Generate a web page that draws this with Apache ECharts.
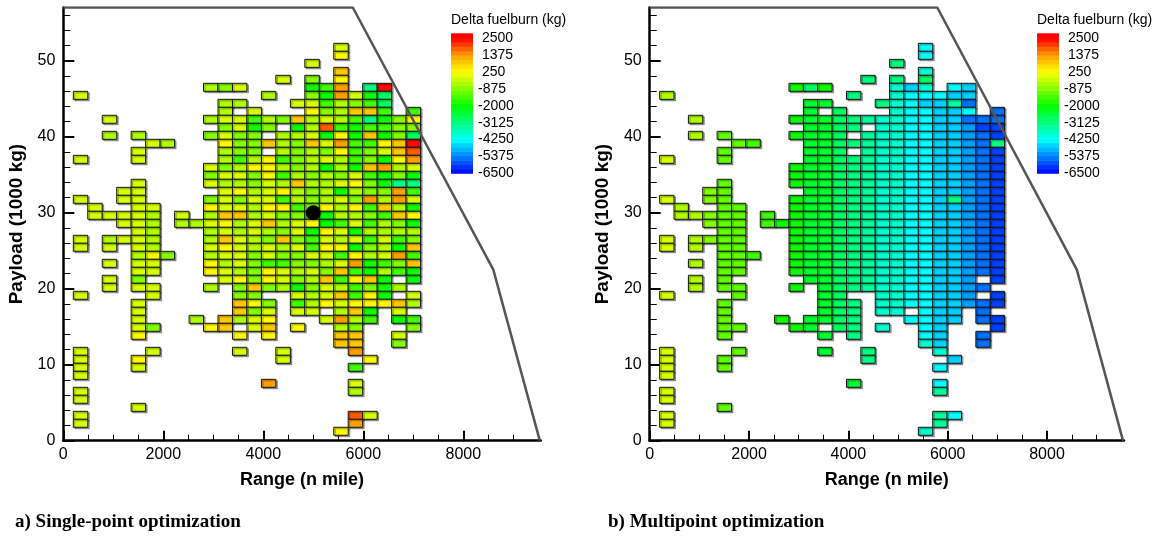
<!DOCTYPE html>
<html><head><meta charset="utf-8">
<script src="https://cdn.jsdelivr.net/npm/echarts@6/dist/echarts.min.js"></script>
<style>html,body{margin:0;padding:0;background:#fff}#c{width:1160px;height:538px}</style>
</head><body><div id="c"></div>
<script>
// ---- bins (cell centres) ----
const RANGE_BINS = [345, 634, 924, 1213, 1502, 1792, 2081, 2371, 2660, 2949, 3239, 3528,
  3818, 4107, 4396, 4686, 4975, 5265, 5554, 5843, 6133, 6422, 6712, 7001];
const PAYLOAD_BINS = [1.24, 2.29, 3.34, 4.39, 5.45, 6.50, 7.55, 8.60, 9.66, 10.71, 11.76, 12.82,
  13.87, 14.92, 15.97, 17.03, 18.08, 19.13, 20.18, 21.24, 22.29, 23.34, 24.39, 25.45, 26.50,
  27.55, 28.60, 29.66, 30.71, 31.76, 32.81, 33.87, 34.92, 35.97, 37.02, 38.08, 39.13, 40.18,
  41.23, 42.29, 43.34, 44.39, 45.44, 46.50, 47.55, 48.60, 49.65, 50.71, 51.76];
const CELL_W = 289.4, CELL_H = 1.0526;
// ---- colour codes -> delta fuelburn (kg) ----
const LEVELS = {R:2430, O:1850, o:1375, y:900, Y:330, l:-100, g:-450, G:-850, h:-1150, n:-1450,
  N:-1900, m:-2400, s:-2850, S:-3125, a:-3400, t:-3830, c:-4250, k:-4660, b:-5100, B:-5520, d:-5940, D:-6360};
// rows from top (payload bin 48) to bottom (bin 0); columns = RANGE_BINS
const SINGLE_POINT = [
"..................l.....",
"..................Y.....",
"................l.......",
"..................y.....",
"..............l.G.Y.....",
".........gGl....Nno.SR..",
"l............g..GNolNs..",
"..........gg...llngGns..",
"..........g.l...YGgyyn.n",
"..l......gllngGyglgnSNGY",
"..........GlNG.NgOnNnnGG",
"..g.g....GlGG.gglNYNyNGs",
".....lg...YGGygGylonnYyR",
"....l.....gGG.gGgGYnGlyO",
"l...l.....gngYnGglgnGNYo",
".........lGgYYgGgNgNyogl",
".........GllGYngGgGlnNGN",
"....l....lggGlgygglYGNSS",
"...ll.....lYglYgGgNgGGon",
"l..ll....GlGllngGglGogol",
".l..ll...YllgYYnGYgYnygN",
".llllg.l.gyyglGGnNggGnyY",
"...llg.gglYglyglYNnlngGN",
"....lg...glglgGlNYlNgggg",
"l.gllg...gylgGyGnlglnlnG",
"l.l.lg...lYlglglnYYNGgNy",
"....gYG..gllGlGGllnYglon",
"..l.ll...YglGnnGGgloNnGy",
"....ll...YlgGYlglGynNgnN",
"..l.G.....lYGYlGgynYyN.N",
"..l.ll...g.GyGgNGlgnGNg.",
"l....l.....GG..lglynYN.l",
"....l......yYG.ngYlYYYyg",
"....l......yGl.ll.gyN.l.",
"....l...g.yglY...logn.Nn",
"....lG...Yy.ly.Y..gG...G",
"....Y......Y.Y....yy..l.",
"..................yy..G.",
"l....l.....l..l....o....",
"l...Y.........l.....Y...",
"l...l..............n....",
"l.......................",
".............o.....l....",
"l..................g....",
"l.......................",
"....l...................",
"l..................Ol...",
"l..................o....",
"..................Y....."];
const MULTIPOINT = [
"..................c.....",
"..................c.....",
"................S.......",
"..................t.....",
"..............S.S.s.....",
".........NsN....tkt.ck..",
"g............S..tccckk..",
"..........mm...StckkaB..",
"..........m.s...tcckkc.B",
"..g......NmmsSattcckkBBB",
"..........mmsS.ttcckkbdd",
"..g.h....Nmms.attcckkbBd",
".....hn...mmsSattcckkbBS",
"....h.....mms.attcckkbBd",
"l...h.....mmsSattcckkbBd",
".........NmmsSattcckkbBd",
".........NmmsSattcckkbBd",
"....h....NmmsSattcckkbBd",
"...Gh.....mmsSattcckkbBd",
"l..Gh....NmmsSattcckSbBd",
".g..hh...NmmsSattcckkbBd",
".ggGhh.n.NmmsSattcckkbBd",
"...Ghh.nNNmmsSattcckkbBd",
"....hh...NmmsSattcckkbBd",
"l.gGhh...NmmsSattcckkbBd",
"l.g.hh...NmmsSattcckkbBd",
"....hhn..NmmsSattcckkbBd",
"..g.hh...NmmsSattcckkbBd",
"....hh...NmmsSattcckkbBd",
"..g.h.....mmsSattcckkb.d",
"..g.hh...N.msSattcckkbB.",
"l....h.....ms..ttcckkb.d",
"....h......msS.ttcckkbBd",
"....h......msS.tt.ckk.B.",
"....h...N.mmsS...cckk.Bd",
"....hh...Nm.sS.t..ck...d",
"....h......m.S....ck..B.",
"..................tk..B.",
"l....h.....m..S....t....",
"l...h.........S.....k...",
"l...h..............c....",
"l.......................",
".............m.....c....",
"l..................a....",
"l.......................",
"....h...................",
"l..................ac...",
"l..................a....",
"..................t....."];
const ENVELOPE = [[0, 57], [5790, 57], [8600, 22.5], [9530, 0]];
const DESIGN_POINT = [[5000, 30]];
const X_MAJOR = [0, 2000, 4000, 6000, 8000];
const X_MINOR = [500, 1000, 1500, 2500, 3000, 3500, 4500, 5000, 5500, 6500, 7000, 7500, 8500, 9000, 9500];
const Y_MAJOR = [0, 10, 20, 30, 40, 50];
const Y_MINOR = [2, 4, 6, 8, 12, 14, 16, 18, 22, 24, 26, 28, 32, 34, 36, 38, 42, 44, 46, 48, 52, 54, 56];
const LEGEND_LABELS = [2500, 1375, 250, -875, -2000, -3125, -4250, -5375, -6500];
const COLORS = ['#0000ff', '#0080ff', '#00ffff', '#00ff80', '#00ff00', '#80ff00', '#ffff00', '#ffa000', '#ff0000'];
const CAPTIONS = ['a) Single-point optimization', 'b) Multipoint optimization'];
const LEGEND_TITLE = 'Delta fuelburn (kg)';

const FONT = '"Liberation Sans", Arial, Helvetica, sans-serif';
const X_MAX = 9550, Y_MAX = 57, LEG_MIN = -6500, LEG_MAX = 2833;

function toCells(rows) {
  const out = [];
  rows.forEach((row, r) => {
    const j = PAYLOAD_BINS.length - 1 - r;
    for (let i = 0; i < row.length; i++) {
      const c = row[i];
      if (c !== '.') out.push([RANGE_BINS[i], PAYLOAD_BINS[j], LEVELS[c]]);
    }
  });
  return out;
}
const bands = [];
const NB = 32, bh = (LEG_MAX - LEG_MIN) / NB;
for (let k = 0; k < NB; k++) {
  const lo = LEG_MIN + k * bh, hi = lo + bh;
  bands.push([lo, hi, Math.max(LEG_MIN, Math.min(2500, (lo + hi) / 2))]);
}

const PLOTS = [
  {left: 63.3, width: 477.5, legLeft: 451, cells: SINGLE_POINT},
  {left: 649.7, width: 474.3, legLeft: 1037, cells: MULTIPOINT}
];
const grids = [], xAxis = [], yAxis = [], series = [], graphic = [];
const cellSeriesIdx = [];

function cellItem(params, api) {
  const x = api.value(0), y = api.value(1);
  const a = api.coord([x - CELL_W / 2, y + CELL_H / 2]);
  const b = api.coord([x + CELL_W / 2, y - CELL_H / 2]);
  return {type: 'rect', shape: {x: a[0], y: a[1], width: b[0] - a[0], height: b[1] - a[1]},
    style: {fill: api.visual('color'), stroke: '#111', lineWidth: 1,
      shadowColor: 'rgba(0,0,0,0.35)', shadowOffsetX: 1.5, shadowOffsetY: 1.5, shadowBlur: 0}};
}
function bandItem(params, api) {
  const a = api.coord([0, api.value(1)]);
  const b = api.coord([1, api.value(0)]);
  return {type: 'rect', shape: {x: a[0], y: a[1], width: b[0] - a[0], height: b[1] - a[1] + 0.5},
    style: {fill: api.visual('color')}};
}

PLOTS.forEach((p, k) => {
  const g = grids.length;
  grids.push({left: p.left, top: 7.5, width: p.width, height: 433.2});
  xAxis.push({gridIndex: g, type: 'value', min: 0, max: X_MAX, position: 'bottom',
    name: 'Range (n mile)', nameLocation: 'middle', nameGap: 30,
    nameTextStyle: {fontFamily: FONT, fontWeight: 'bold', fontSize: 18, color: '#000'},
    axisLine: {show: true, onZero: false, lineStyle: {color: '#000', width: 2.5}},
    axisTick: {show: true, inside: true, length: 10, customValues: X_MAJOR, lineStyle: {color: '#000', width: 2}},
    axisLabel: {customValues: X_MAJOR, fontFamily: FONT, fontSize: 16, color: '#000', margin: 6,
      formatter: v => String(v)},
    splitLine: {show: false}});
  xAxis.push({gridIndex: g, type: 'value', min: 0, max: X_MAX, position: 'bottom',
    axisLine: {show: false}, axisLabel: {show: false}, splitLine: {show: false},
    axisTick: {show: true, inside: true, length: 6, customValues: X_MINOR, lineStyle: {color: '#000', width: 1}}});
  yAxis.push({gridIndex: g, type: 'value', min: 0, max: Y_MAX, position: 'left',
    name: 'Payload (1000 kg)', nameLocation: 'middle', nameGap: 37, nameRotate: 90,
    nameTextStyle: {fontFamily: FONT, fontWeight: 'bold', fontSize: 19, color: '#000'},
    axisLine: {show: true, onZero: false, lineStyle: {color: '#000', width: 2.5}},
    axisTick: {show: true, inside: true, length: 11, customValues: Y_MAJOR, lineStyle: {color: '#000', width: 2}},
    axisLabel: {customValues: Y_MAJOR, fontFamily: FONT, fontSize: 16, color: '#000', margin: 8,
      formatter: v => String(v)},
    splitLine: {show: false}});
  yAxis.push({gridIndex: g, type: 'value', min: 0, max: Y_MAX, position: 'left',
    axisLine: {show: false}, axisLabel: {show: false}, splitLine: {show: false},
    axisTick: {show: true, inside: true, length: 7, customValues: Y_MINOR, lineStyle: {color: '#000', width: 1}}});
  const xi = xAxis.length - 2, yi = yAxis.length - 2;
  cellSeriesIdx.push(series.length);
  series.push({type: 'custom', xAxisIndex: xi, yAxisIndex: yi, data: toCells(p.cells),
    renderItem: cellItem, clip: false, z: 2, encode: {x: 0, y: 1}});
  series.push({type: 'line', xAxisIndex: xi, yAxisIndex: yi, data: ENVELOPE, symbol: 'none',
    lineStyle: {color: '#555', width: 2.5}, z: 4, silent: true});
  if (k === 0) {
    series.push({type: 'scatter', xAxisIndex: xi, yAxisIndex: yi, data: DESIGN_POINT,
      symbolSize: 15, itemStyle: {color: '#000', opacity: 1}, z: 5});
  }
  // colour legend
  const lg = grids.length;
  grids.push({left: p.legLeft, top: 33.3, width: 22, height: 140});
  xAxis.push({gridIndex: lg, type: 'value', min: 0, max: 1, show: false});
  yAxis.push({gridIndex: lg, type: 'value', min: LEG_MIN, max: LEG_MAX, position: 'right',
    axisLine: {show: false}, axisTick: {show: false}, splitLine: {show: false},
    axisLabel: {customValues: LEGEND_LABELS, fontFamily: FONT, fontSize: 14, color: '#000', margin: 5,
      formatter: v => (v >= 0 ? ' ' : '') + String(v)}});
  cellSeriesIdx.push(series.length);
  series.push({type: 'custom', xAxisIndex: xAxis.length - 1, yAxisIndex: yAxis.length - 1,
    data: bands, renderItem: bandItem, clip: false, encode: {y: [0, 1]}, silent: true});
  graphic.push({type: 'text', left: p.legLeft, top: 13,
    style: {text: LEGEND_TITLE, font: '14px ' + FONT, fill: '#000'}});
  graphic.push({type: 'text', left: k === 0 ? 15 : 608, top: 513,
    style: {text: CAPTIONS[k], font: 'bold 19px "Liberation Serif", "Times New Roman", serif', fill: '#000'}});
});

const chart = echarts.init(document.getElementById('c'));
chart.setOption({
  animation: false,
  grid: grids, xAxis: xAxis, yAxis: yAxis, series: series, graphic: graphic,
  visualMap: {show: false, type: 'continuous', min: -6500, max: 2500, dimension: 2,
    seriesIndex: cellSeriesIdx, inRange: {color: COLORS}}
});
</script></body></html>
